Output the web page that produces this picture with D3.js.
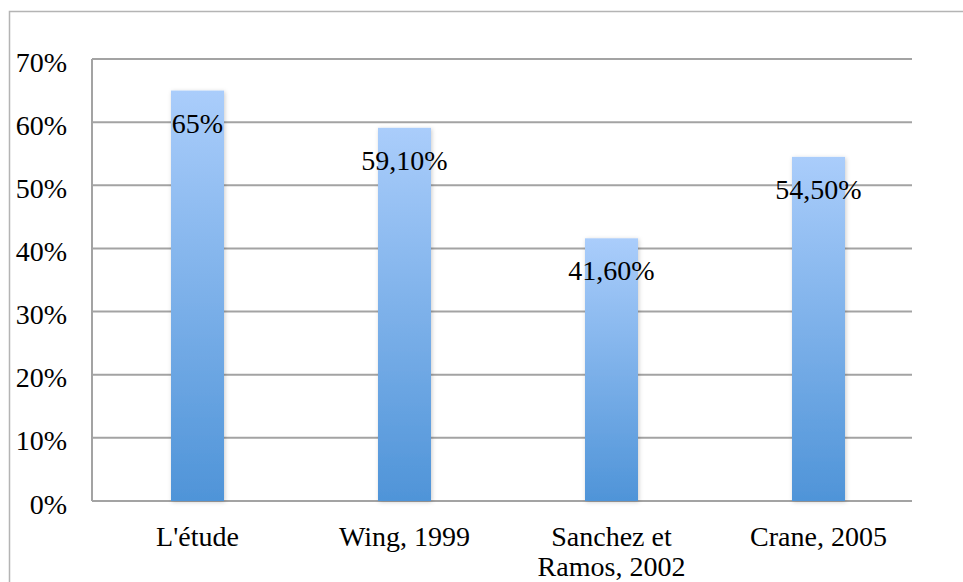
<!DOCTYPE html>
<html>
<head>
<meta charset="utf-8">
<script src="https://cdn.jsdelivr.net/npm/d3@7"></script>
<style>
  body { margin: 0; background: #fff; }
  text { font-family: "Liberation Serif", serif; font-size: 28px; fill: #000; }
</style>
</head>
<body>
<script>
var width = 963,
    height = 582;

// data
var categories = ["L'étude", "Wing, 1999", "Sanchez et|Ramos, 2002", "Crane, 2005"];
var values = [0.65, 0.591, 0.416, 0.545];
var labels = ["65%", "59,10%", "41,60%", "54,50%"];
var yTicks = [0, 0.1, 0.2, 0.3, 0.4, 0.5, 0.6, 0.7];

var plotLeft = 92, plotRight = 912, plotTop = 59, plotBottom = 501;

var svg = d3.select('body').append('svg')
    .attr('width', width)
    .attr('height', height);

var defs = svg.append('defs');
var grad = defs.append('linearGradient')
    .attr('id', 'barGrad')
    .attr('x1', 0).attr('y1', 0).attr('x2', 0).attr('y2', 1);
grad.append('stop').attr('offset', '0%').attr('stop-color', '#aacdfb');
grad.append('stop').attr('offset', '100%').attr('stop-color', '#4f94d8');

var shadow = defs.append('filter').attr('id', 'shadow')
    .attr('x', '-20%').attr('y', '-5%').attr('width', '140%').attr('height', '110%');
shadow.append('feDropShadow')
    .attr('dx', 1).attr('dy', 1).attr('stdDeviation', 2)
    .attr('flood-color', '#000').attr('flood-opacity', 0.2);

// outer frame (only top and left are visible in the picture)
svg.append('path')
    .attr('d', 'M9.5,' + height + 'V11.5H' + width)
    .attr('fill', 'none')
    .attr('stroke', '#b4b4b4')
    .attr('stroke-width', 1.5);

var x = d3.scaleBand()
    .domain(categories)
    .range([94, 922]);

var y = d3.scaleLinear()
    .domain([0, 0.7])
    .range([plotBottom, plotTop]);

/* ============ GRID ============ */
svg.append('g').selectAll('line')
    .data(yTicks)
  .enter().append('line')
    .attr('x1', plotLeft)
    .attr('x2', plotRight)
    .attr('y1', d => y(d))
    .attr('y2', d => y(d))
    .attr('stroke', '#a3a3a3')
    .attr('stroke-width', 2);

// vertical axis line
svg.append('line')
    .attr('x1', plotLeft).attr('x2', plotLeft)
    .attr('y1', plotTop).attr('y2', plotBottom)
    .attr('stroke', '#a3a3a3')
    .attr('stroke-width', 2);

// y tick labels
var yAxis = d3.axisLeft(y)
    .tickValues(yTicks)
    .tickFormat(d3.format('.0%'))
    .tickSize(0)
    .tickPadding(25);

var yg = svg.append('g')
    .attr('transform', 'translate(' + plotLeft + ',0)')
    .call(yAxis);
yg.select('.domain').remove();
yg.selectAll('text')
    .attr('font-family', null)
    .attr('font-size', null)
    .attr('dy', '0.43em');

/* ============ BARS ============ */
var barW = x.bandwidth() * 0.256;

svg.append('g').selectAll('rect')
    .data(values)
  .enter().append('rect')
    .attr('x', (d, i) => x(categories[i]) + x.bandwidth() / 2 - barW / 2)
    .attr('y', d => y(d))
    .attr('width', barW)
    .attr('height', d => plotBottom - y(d))
    .attr('fill', 'url(#barGrad)')
    .attr('filter', 'url(#shadow)');

// value labels
svg.append('g').selectAll('text')
    .data(values)
  .enter().append('text')
    .attr('x', (d, i) => x(categories[i]) + x.bandwidth() / 2)
    .attr('y', d => y(d) + 42)
    .attr('text-anchor', 'middle')
    .text((d, i) => labels[i]);

// category labels
var cat = svg.append('g').selectAll('text')
    .data(categories)
  .enter().append('text')
    .attr('x', d => x(d) + x.bandwidth() / 2)
    .attr('y', 546)
    .attr('text-anchor', 'middle');

cat.selectAll('tspan')
    .data(d => d.split('|').map(s => ({ s: s, x: x(d) + x.bandwidth() / 2 })))
  .enter().append('tspan')
    .attr('x', t => t.x)
    .attr('dy', (t, i) => i ? 30 : 0)
    .text(t => t.s);
</script>
</body>
</html>
